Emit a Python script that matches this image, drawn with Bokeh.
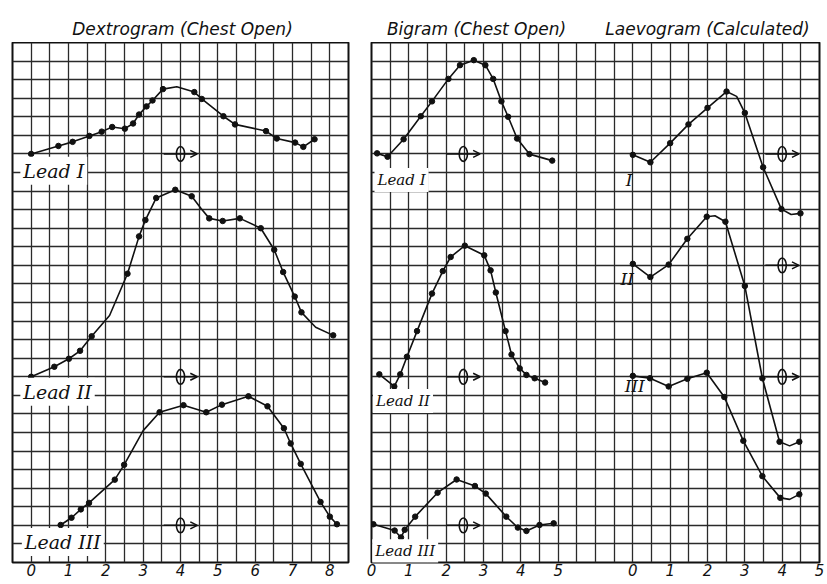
from bokeh.plotting import figure
from bokeh.models import Range1d, FixedTicker, Grid, Label, Arrow, OpenHead
from bokeh.layouts import row, column
from bokeh.embed import file_html
from bokeh.resources import INLINE
from bokeh.core.properties import value

# ---------------- data (deflections from each lead's zero line, in grid squares) ----------------
# Dextrogram (Chest Open)
dex_I_x = [0, 0.73, 1.11, 1.56, 1.89, 2.17, 2.51, 2.73, 2.89, 3.09, 3.25, 3.53, 4.37, 4.57, 5.15, 5.46, 6.29, 6.58, 7.07, 7.29, 7.59]
dex_I_y = [0, 0.43, 0.65, 0.97, 1.2, 1.45, 1.36, 1.64, 2.12, 2.56, 2.88, 3.49, 3.33, 2.96, 2.03, 1.59, 1.23, 0.83, 0.61, 0.38, 0.79]
dex_I_trace_x = [3.9]
dex_I_trace_y = [3.62]

dex_II_x = [0, 0.62, 1.01, 1.31, 1.62, 2.58, 2.89, 3.06, 3.35, 3.86, 4.3, 4.77, 5.13, 5.59, 6.15, 6.51, 6.75, 7.06, 7.24, 8.09]
dex_II_y = [0, 0.54, 0.97, 1.4, 2.18, 5.55, 7.56, 8.44, 9.63, 10.07, 9.72, 8.53, 8.39, 8.53, 8.0, 6.84, 5.64, 4.32, 3.47, 2.23]
dex_II_trace_x = [2.1, 4.55, 7.62]
dex_II_trace_y = [3.3, 9.06, 2.67]

dex_III_x = [0.79, 1.08, 1.33, 1.55, 2.24, 2.49, 3.44, 4.08, 4.69, 5.11, 5.82, 6.33, 6.77, 6.95, 7.22, 7.75, 8.0, 8.19]
dex_III_y = [0.02, 0.41, 0.86, 1.21, 2.46, 3.26, 6.09, 6.47, 6.09, 6.5, 6.95, 6.41, 5.23, 4.41, 3.31, 1.26, 0.47, 0.06]
dex_III_trace_x = [3.0]
dex_III_trace_y = [5.1]

# Bigram (Chest Open)
big_I_x = [0.15, 0.43, 0.86, 1.32, 1.62, 2.06, 2.37, 2.74, 3.05, 3.26, 3.48, 3.66, 3.9, 4.23, 4.84]
big_I_y = [0.03, -0.15, 0.79, 2.03, 2.83, 4.04, 4.78, 5.05, 4.78, 4.04, 2.83, 2.0, 0.83, -0.01, -0.36]

big_II_x = [0.21, 0.61, 0.77, 0.95, 1.22, 1.62, 1.91, 2.12, 2.5, 3.02, 3.19, 3.33, 3.59, 3.75, 3.97, 4.15, 4.37, 4.65]
big_II_y = [0.13, -0.52, 0.13, 1.08, 2.46, 4.48, 5.69, 6.45, 7.06, 6.54, 5.73, 4.54, 2.46, 1.2, 0.45, 0.1, -0.08, -0.31]

big_III_x = [0.05, 0.62, 0.79, 0.89, 1.17, 1.77, 2.28, 2.77, 3.06, 3.61, 3.92, 4.15, 4.5, 4.88]
big_III_y = [0.06, -0.28, -0.65, -0.24, 0.47, 1.76, 2.47, 2.12, 1.71, 0.47, -0.12, -0.3, 0.02, 0.11]

# Laevogram (Calculated)
lae_I_x = [0, 0.47, 1.0, 1.49, 2.0, 2.51, 3.0, 3.49, 3.98, 4.49]
lae_I_y = [-0.05, -0.45, 0.58, 1.59, 2.48, 3.36, 2.21, -0.72, -2.97, -3.2]
lae_I_trace_x = [2.78, 4.24]
lae_I_trace_y = [3.1, -3.26]

lae_II_x = [0, 0.47, 0.96, 1.46, 1.98, 2.48, 3.0, 3.47, 3.93, 4.46]
lae_II_y = [0.08, -0.63, 0.04, 1.43, 2.62, 2.35, -1.11, -6.08, -9.5, -9.5]
lae_II_trace_x = [2.2, 4.2]
lae_II_trace_y = [2.67, -9.72]

lae_III_x = [0, 0.46, 0.96, 1.46, 1.98, 2.45, 2.96, 3.47, 3.95, 4.46]
lae_III_y = [0.05, -0.08, -0.52, -0.11, 0.22, -1.09, -3.45, -5.35, -6.52, -6.33]
lae_III_trace_x = [4.2]
lae_III_trace_y = [-6.6]

dex_ticks = [0, 1, 2, 3, 4, 5, 6, 7, 8]
big_ticks = [0, 1, 2, 3, 4, 5]
lae_ticks = [0, 1, 2, 3, 4, 5]

titles = ["Dextrogram (Chest Open)", "Bigram (Chest Open)", "Laevogram (Calculated)"]

# zero lines of the three leads (grid squares from the bottom)
BASE_LEFT = [22, 10, 2]
BASE_RIGHT_BIG = [22, 10, 2]
BASE_RIGHT_LAE = [22, 16, 10]

ROWS = 28
CELL = 18.67
FRAME_H = 520
TOP = 42
INK = "#111111"
GRID = "#2a2a2a"


def make_fig(x0, x1, ncols, bl, br):
    p = figure(x_range=Range1d(x0, x1), y_range=Range1d(0, ROWS),
               frame_width=int(round(ncols * CELL)), frame_height=FRAME_H,
               min_border_left=bl, min_border_right=br, min_border_top=0, min_border_bottom=18,
               output_backend="svg", toolbar_location=None, y_axis_location=None)
    p.center = [c for c in p.center if not isinstance(c, Grid)]
    p.background_fill_color = "white"
    p.border_fill_color = "white"
    p.outline_line_color = INK
    p.outline_line_width = 2
    p.add_layout(Grid(dimension=0, ticker=FixedTicker(ticks=[x0 + 0.5 * i for i in range(ncols + 1)]),
                      grid_line_color=GRID, grid_line_width=1.3))
    p.add_layout(Grid(dimension=1, ticker=FixedTicker(ticks=list(range(ROWS + 1))),
                      grid_line_color=GRID, grid_line_width=1.3))
    ax = p.xaxis[0]
    ax.axis_line_color = None
    ax.major_tick_line_color = None
    ax.minor_tick_line_color = None
    ax.major_tick_out = 0
    ax.major_tick_in = 0
    ax.major_label_standoff = 1
    ax.major_label_text_font = "DejaVu Sans"
    ax.major_label_text_font_style = "italic"
    ax.major_label_text_font_size = "15px"
    ax.major_label_text_color = INK
    return p


def draw_lead(p, xs, ys, base, tx=(), ty=(), rng="default"):
    pts = sorted(list(zip(xs, ys)) + list(zip(tx, ty)))
    p.line([a for a, _ in pts], [b + base for _, b in pts], line_color=INK, line_width=1.6,
           x_range_name=rng)
    p.scatter(xs, [b + base for b in ys], size=5.5, color=INK, x_range_name=rng)


def zero_mark(p, xc, base, rng="default", lead_in=0.45):
    p.add_layout(Arrow(end=OpenHead(size=7, line_width=1.5, line_color=INK),
                       x_start=xc - lead_in, y_start=base, x_end=xc + 0.45, y_end=base,
                       line_width=1.5, line_color=INK, x_range_name=rng))
    p.ellipse(x=[xc], y=[base], width=0.22, height=0.8, fill_color=None,
              line_color=INK, line_width=1.6, x_range_name=rng)


def lead_label(p, x, y, text, size, rng="default", box=True, align="left"):
    p.add_layout(Label(x=x, y=y, text=text, x_range_name=rng, text_align=align,
                       text_baseline="middle", text_font="DejaVu Serif", text_font_style="italic",
                       text_font_size=size, text_color=INK,
                       background_fill_color="white" if box else None, padding=3))


# ---------------- title strip (pixel coordinates across the page) ----------------
W = 825
pt = figure(x_range=Range1d(0, W), y_range=Range1d(0, TOP), frame_width=W, frame_height=TOP,
            min_border=0, output_backend="svg", toolbar_location=None,
            x_axis_location=None, y_axis_location=None)
pt.grid.visible = False
pt.outline_line_color = None
pt.text(x=[182, 476, 707], y=[14, 14, 14], text=titles, text_align="center",
        text_baseline="alphabetic", text_font=value("DejaVu Sans"), text_font_style="italic",
        text_font_size="17px", text_color=INK)

# ---------------- left: Dextrogram ----------------
pl = make_fig(-0.5, 8.5, 18, 12, 11)
pl.xaxis.ticker = FixedTicker(ticks=dex_ticks)
draw_lead(pl, dex_I_x, dex_I_y, BASE_LEFT[0], dex_I_trace_x, dex_I_trace_y)
draw_lead(pl, dex_II_x, dex_II_y, BASE_LEFT[1], dex_II_trace_x, dex_II_trace_y)
draw_lead(pl, dex_III_x, dex_III_y, BASE_LEFT[2], dex_III_trace_x, dex_III_trace_y)
for b in BASE_LEFT:
    zero_mark(pl, 4.0, b)
lead_label(pl, -0.29, 21.1, "Lead I", "19px")
lead_label(pl, -0.29, 9.2, "Lead II", "19px")
lead_label(pl, -0.25, 1.1, "Lead III", "19px")

# ---------------- right: Bigram + Laevogram on one continuous grid ----------------
pr = make_fig(0, 12, 24, 12, 6)
pr.extra_x_ranges = {"laevo": Range1d(-7, 5)}
lae_shift = 7
pr.xaxis.ticker = FixedTicker(ticks=big_ticks + [t + lae_shift for t in lae_ticks])
pr.xaxis.major_label_overrides = {t + lae_shift: str(t) for t in lae_ticks}

draw_lead(pr, big_I_x, big_I_y, BASE_RIGHT_BIG[0])
draw_lead(pr, big_II_x, big_II_y, BASE_RIGHT_BIG[1])
draw_lead(pr, big_III_x, big_III_y, BASE_RIGHT_BIG[2])
for b in BASE_RIGHT_BIG:
    zero_mark(pr, 2.46, b)

draw_lead(pr, lae_I_x, lae_I_y, BASE_RIGHT_LAE[0], lae_I_trace_x, lae_I_trace_y, rng="laevo")
draw_lead(pr, lae_II_x, lae_II_y, BASE_RIGHT_LAE[1], lae_II_trace_x, lae_II_trace_y, rng="laevo")
draw_lead(pr, lae_III_x, lae_III_y, BASE_RIGHT_LAE[2], lae_III_trace_x, lae_III_trace_y, rng="laevo")
for b in BASE_RIGHT_LAE:
    zero_mark(pr, 4.0, b, rng="laevo")

lead_label(pr, 0.08, 20.6, "Lead I", "15px")
lead_label(pr, 0.04, 8.7, "Lead II", "15px")
lead_label(pr, 0.02, 0.6, "Lead III", "15px")
lead_label(pr, -0.1, 20.6, "I", "17px", rng="laevo", box=False, align="center")
lead_label(pr, -0.15, 15.25, "II", "17px", rng="laevo", box=False, align="center")
lead_label(pr, 0.05, 9.5, "III", "17px", rng="laevo", box=False, align="center")

layout = column(pt, row(pl, pr))
open("out.html", "w").write(file_html(layout, INLINE))
